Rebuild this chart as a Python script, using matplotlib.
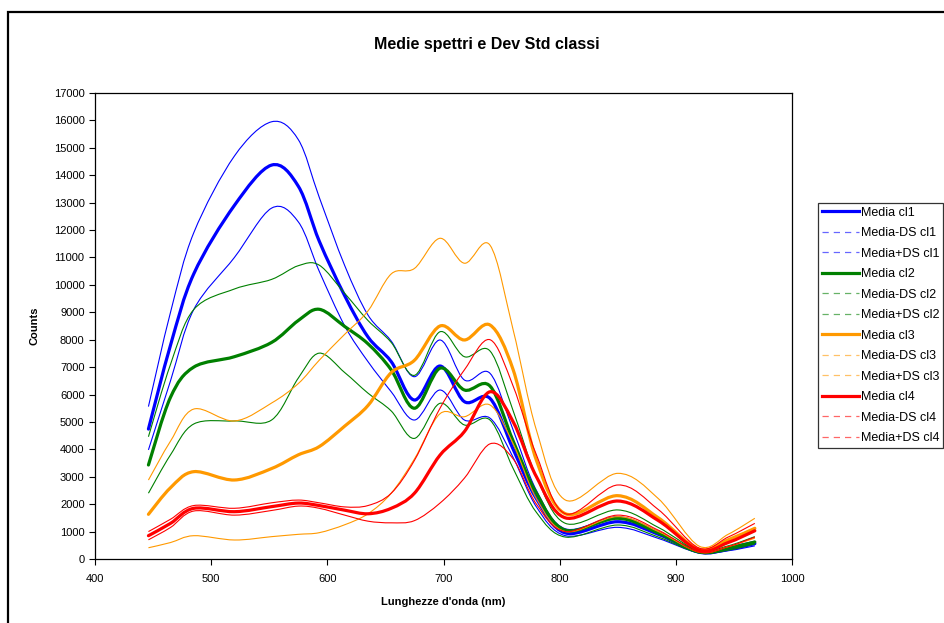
import numpy as np
import matplotlib.pyplot as plt
from matplotlib.path import Path
from matplotlib.patches import PathPatch, Rectangle
from matplotlib.lines import Line2D

plt.rcParams['font.family'] = ['Liberation Sans', 'DejaVu Sans']

wl = [446, 465, 485, 520, 552, 575, 593, 615, 635, 655, 675, 697, 718, 740, 760, 780, 805, 850, 885, 920, 945, 968]

cl1_mean = [4740, 7800, 10400, 12900, 14370, 13600, 11600, 9600, 8100, 7200, 5800, 7040, 5740, 5860, 4000, 2200, 950, 1360, 900, 250, 350, 560]
cl1_lo = [3980, 6500, 9100, 11000, 12800, 12300, 10500, 8500, 7200, 6100, 5070, 6165, 5070, 5140, 3700, 1900, 850, 1155, 750, 220, 300, 480]
cl1_hi = [5560, 9000, 11900, 14700, 15950, 15300, 13200, 10700, 8900, 7950, 6650, 7990, 6530, 6775, 4700, 2500, 1100, 1545, 1000, 280, 450, 650]

cl2_mean = [3430, 5900, 7000, 7380, 7900, 8700, 9110, 8480, 7850, 6900, 5500, 6960, 6165, 6310, 4300, 2400, 1050, 1485, 950, 260, 400, 620]
cl2_lo = [2400, 3800, 4925, 5035, 5070, 6600, 7510, 6800, 6050, 5400, 4400, 5680, 4890, 5070, 3300, 1700, 800, 1240, 800, 220, 320, 550]
cl2_hi = [4460, 7100, 9100, 9850, 10200, 10700, 10720, 9690, 8700, 7900, 6700, 8290, 7380, 7590, 5400, 3000, 1300, 1790, 1150, 300, 480, 815]

cl3_mean = [1630, 2600, 3186, 2882, 3300, 3800, 4100, 4850, 5600, 6800, 7250, 8500, 7990, 8537, 6900, 3600, 1650, 2310, 1500, 350, 700, 1120]
cl3_lo = [410, 600, 850, 693, 815, 900, 960, 1250, 1650, 2400, 3650, 5300, 5190, 5620, 4200, 2200, 1000, 1545, 1000, 250, 450, 760]
cl3_hi = [2880, 4300, 5470, 5035, 5690, 6400, 7250, 8200, 9050, 10400, 10600, 11700, 10790, 11450, 8350, 4700, 2150, 3125, 2200, 470, 900, 1485]

cl4_mean = [850, 1300, 1848, 1726, 1910, 2040, 1950, 1780, 1650, 1850, 2400, 3790, 4650, 6100, 5000, 3000, 1500, 2115, 1400, 320, 600, 1030]
cl4_lo = [700, 1150, 1750, 1600, 1770, 1930, 1850, 1600, 1380, 1320, 1400, 2040, 2950, 4200, 3650, 2000, 1000, 1600, 1050, 250, 450, 800]
cl4_hi = [1000, 1450, 1950, 1850, 2050, 2150, 2050, 1900, 1950, 2400, 3600, 5500, 6900, 8000, 6300, 3800, 1650, 2700, 1800, 400, 800, 1300]

classes = ["cl1", "cl2", "cl3", "cl4"]
colors = ["#0000ff", "#008000", "#ff9900", "#ff0000"]
series = [(cl1_mean, cl1_lo, cl1_hi), (cl2_mean, cl2_lo, cl2_hi),
          (cl3_mean, cl3_lo, cl3_hi), (cl4_mean, cl4_lo, cl4_hi)]


def smooth_path(xs, ys):
    """Excel-like smoothed line: Catmull-Rom segments as cubic Beziers."""
    pts = np.column_stack([xs, ys]).astype(float)
    n = len(pts)
    verts, codes = [pts[0]], [Path.MOVETO]
    for i in range(n - 1):
        p0 = pts[i - 1] if i > 0 else pts[i]
        p1, p2 = pts[i], pts[i + 1]
        p3 = pts[i + 2] if i + 2 < n else pts[i + 1]
        verts += [p1 + (p2 - p0) / 6, p2 - (p3 - p1) / 6, p2]
        codes += [Path.CURVE4] * 3
    return Path(verts, codes)


fig = plt.figure(figsize=(9.44, 6.23), dpi=100)
ax = fig.add_axes([95 / 944, 1 - 559 / 623, 697 / 944, 466 / 623])

handles, labels = [], []
for name, col, (m, lo, hi) in zip(classes, colors, series):
    ax.add_patch(PathPatch(smooth_path(wl, m), fill=False, edgecolor=col, lw=2.3, capstyle='round'))
    ax.add_patch(PathPatch(smooth_path(wl, lo), fill=False, edgecolor=col, lw=0.8))
    ax.add_patch(PathPatch(smooth_path(wl, hi), fill=False, edgecolor=col, lw=0.8))
    handles += [Line2D([], [], color=col, lw=2.3),
                Line2D([], [], color=col, lw=0.9, ls=(0, (5, 4)), alpha=0.6),
                Line2D([], [], color=col, lw=0.9, ls=(0, (5, 4)), alpha=0.6)]
    labels += [f"Media {name}", f"Media-DS {name}", f"Media+DS {name}"]

ax.set_xlim(400, 1000)
ax.set_ylim(0, 17000)
ax.set_xticks(range(400, 1001, 100))
ax.set_yticks(range(0, 17001, 1000))
ax.tick_params(direction='out', length=4, width=0.8, labelsize=8, colors='black')
ax.tick_params(axis='x', pad=7)
for sp in ax.spines.values():
    sp.set_color('black')
    sp.set_linewidth(0.9)

ax.set_xlabel("Lunghezze d'onda (nm)", fontsize=8, fontweight='bold', labelpad=9)
ax.set_ylabel("Counts", fontsize=8, fontweight='bold', labelpad=10)
fig.text(487 / 944, 1 - 45 / 623, "Medie spettri e Dev Std classi", ha='center', va='center',
         fontsize=11.5, fontweight='bold')

leg = fig.legend(handles, labels, loc='upper left', bbox_to_anchor=(818 / 944, 1 - 203 / 623),
                 fontsize=9, frameon=True, fancybox=False, handlelength=3.0, handletextpad=0.15,
                 labelspacing=0.68, borderpad=0.3, borderaxespad=0)
leg.get_frame().set_edgecolor('black')
leg.get_frame().set_linewidth(0.9)

# outer chart frame (cut off at right and bottom in the original)
fig.patches.append(Rectangle((8 / 944, -0.05), 1.1, 1 - 12 / 623 + 0.05, transform=fig.transFigure,
                             fill=False, edgecolor='black', lw=1.6))

fig.savefig("out.png", dpi=100)
